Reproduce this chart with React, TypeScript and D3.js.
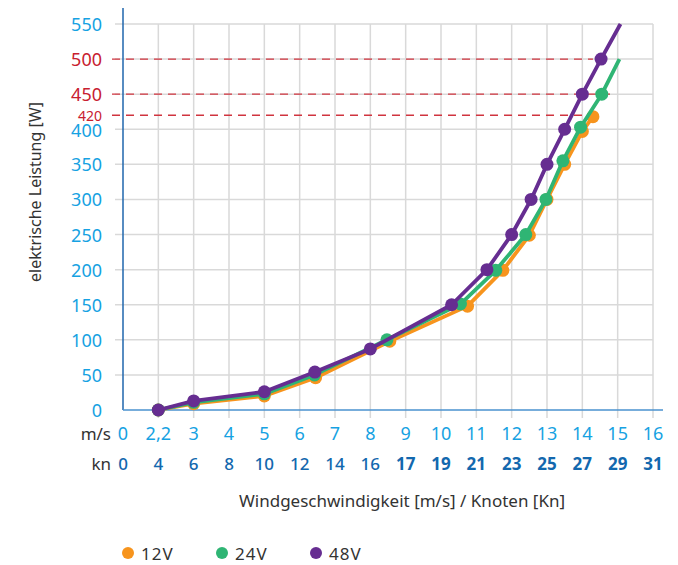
import * as d3 from "d3";

const WIDTH = 678;
const HEIGHT = 565;
const MARGIN = { top: 24, right: 25, bottom: 155, left: 123 };
const FONT = "'Noto Sans', sans-serif";

// x axis: category-like spacing, 0 and 2,2 take one step each
const msTicks = [0, 2.2, 3, 4, 5, 6, 7, 8, 9, 10, 11, 12, 13, 14, 15, 16];
const knTicks = [0, 4, 6, 8, 10, 12, 14, 16, 17, 19, 21, 23, 25, 27, 29, 31];
const yTicks = [0, 50, 100, 150, 200, 250, 300, 350, 400, 450, 500, 550];
const redTicks = [450, 500];

const refValues = [500, 450, 420];
const refEnds = [14.3, 14.8, 14.5];

const v12x = [2.2, 3, 5, 6.45, 8.55, 10.75, 11.75, 12.5, 13, 13.5, 14, 14.3];
const v12y = [0, 9, 20, 46, 98, 148, 199, 249, 300, 350, 397, 418];
const v24x = [2.2, 3, 5, 6.42, 8.47, 10.55, 11.55, 12.4, 12.97, 13.45, 13.95, 14.55, 15.05];
const v24y = [0, 11, 23, 50, 100, 151, 199, 250, 300, 355, 403, 450, 500];
const v48x = [2.2, 3, 5, 6.43, 8, 10.3, 11.3, 12, 12.55, 13, 13.5, 14, 14.53, 15.08];
const v48y = [0, 13, 26, 54, 87, 150, 200, 250, 300, 350, 400, 450, 500, 550];

const seriesNames = ["12V", "24V", "48V"];
const seriesColors = ["#f7941d", "#2fb574", "#662d91"];

const series = [
  { name: seriesNames[0], color: seriesColors[0], xs: v12x, ys: v12y, lastMarker: true },
  { name: seriesNames[1], color: seriesColors[1], xs: v24x, ys: v24y, lastMarker: false },
  { name: seriesNames[2], color: seriesColors[2], xs: v48x, ys: v48y, lastMarker: false },
];

export default function App() {
  const boundsWidth = WIDTH - MARGIN.left - MARGIN.right;
  const boundsHeight = HEIGHT - MARGIN.top - MARGIN.bottom;
  const step = boundsWidth / 15;

  const xScale = d3
    .scaleLinear()
    .domain([0, 2.2, 3, 16])
    .range([0, step, 2 * step, 15 * step]);
  const yScale = d3.scaleLinear().domain([0, 550]).range([boundsHeight, 0]);

  const line = d3
    .line<[number, number]>()
    .x((d) => xScale(d[0]))
    .y((d) => yScale(d[1]));

  const fmt = (v: number) => String(v).replace(".", ",");

  return (
    <div style={{ position: "absolute", left: 0, top: 0 }}>
      <svg width={WIDTH} height={HEIGHT} style={{ display: "block" }}>
        <g transform={`translate(${MARGIN.left},${MARGIN.top})`}>
          {/* grid */}
          {yTicks.slice(1).map((v) => (
            <line
              key={"h" + v}
              x1={-8}
              x2={xScale(16)}
              y1={yScale(v)}
              y2={yScale(v)}
              stroke="#d9d9d9"
              strokeWidth={1.5}
            />
          ))}
          {msTicks.slice(1).map((v) => (
            <line
              key={"v" + v}
              x1={xScale(v)}
              x2={xScale(v)}
              y1={0}
              y2={boundsHeight + 8}
              stroke="#d9d9d9"
              strokeWidth={1.5}
            />
          ))}

          {/* red reference lines */}
          {refValues.map((v, i) => (
            <line
              key={"r" + v}
              x1={-11}
              x2={xScale(refEnds[i])}
              y1={yScale(v)}
              y2={yScale(v)}
              stroke="#d0343f"
              strokeWidth={1.3}
              strokeDasharray="8,6"
            />
          ))}

          {/* axes */}
          <line x1={0} x2={0} y1={-16} y2={boundsHeight} stroke="#1f66ad" strokeWidth={1.5} />
          <line
            x1={0}
            x2={xScale(16) + 10}
            y1={boundsHeight}
            y2={boundsHeight}
            stroke="#4a92cf"
            strokeWidth={1.5}
          />

          {/* y tick labels */}
          {yTicks.map((v) => (
            <text
              key={"yt" + v}
              x={-21}
              y={yScale(v) + (v === 400 ? 1 : 0)}
              textAnchor="end"
              dominantBaseline="central"
              fontFamily={FONT}
              fontSize={18}
              fill={redTicks.includes(v) ? "#c8202f" : "#16a2e2"}
            >
              {v}
            </text>
          ))}
          <text
            x={-21}
            y={yScale(420)}
            textAnchor="end"
            dominantBaseline="central"
            fontFamily={FONT}
            fontSize={14}
            fill="#c8202f"
          >
            420
          </text>

          {/* x tick labels */}
          {msTicks.map((v) => (
            <text
              key={"ms" + v}
              x={xScale(v)}
              y={boundsHeight + 23}
              textAnchor="middle"
              dominantBaseline="central"
              fontFamily={FONT}
              fontSize={18}
              fill="#16a2e2"
            >
              {fmt(v)}
            </text>
          ))}
          {knTicks.map((k, i) => (
            <text
              key={"kn" + k}
              x={xScale(msTicks[i])}
              y={boundsHeight + 53}
              textAnchor="middle"
              dominantBaseline="central"
              fontFamily={FONT}
              fontSize={17}
              fontWeight={k > 16 ? 700 : 500}
              fill="#1368ae"
            >
              {k}
            </text>
          ))}
          <text
            x={-12}
            y={boundsHeight + 23}
            textAnchor="end"
            dominantBaseline="central"
            fontFamily={FONT}
            fontSize={17}
            fill="#333"
          >
            m/s
          </text>
          <text
            x={-12}
            y={boundsHeight + 53}
            textAnchor="end"
            dominantBaseline="central"
            fontFamily={FONT}
            fontSize={17}
            fill="#333"
          >
            kn
          </text>

          {/* series */}
          {series.map((s) => {
            const pts = s.xs.map((x, i) => [x, s.ys[i]] as [number, number]);
            const markers = s.lastMarker ? pts : pts.slice(0, -1);
            return (
              <g key={s.name}>
                <path
                  d={line(pts) || ""}
                  fill="none"
                  stroke={s.color}
                  strokeWidth={3.8}
                  strokeLinejoin="round"
                />
                {markers.map((p, i) => (
                  <circle key={i} cx={xScale(p[0])} cy={yScale(p[1])} r={6.5} fill={s.color} />
                ))}
              </g>
            );
          })}
        </g>

        {/* axis titles */}
        <text
          x={402}
          y={500}
          textAnchor="middle"
          dominantBaseline="central"
          fontFamily={FONT}
          fontSize={17}
          fill="#333"
        >
          Windgeschwindigkeit [m/s] / Knoten [Kn]
        </text>
        <text
          transform="translate(35,192) rotate(-90)"
          textAnchor="middle"
          dominantBaseline="central"
          fontFamily={FONT}
          fontSize={16}
          fill="#333"
        >
          elektrische Leistung [W]
        </text>

        {/* legend */}
        {series.map((s, i) => (
          <g key={"lg" + s.name} transform={`translate(${128 + i * 94},553)`}>
            <circle cx={0} cy={0} r={6} fill={s.color} />
            <text
              x={13}
              y={0}
              dominantBaseline="central"
              fontFamily={FONT}
              fontSize={17}
              letterSpacing={1}
              fill="#333"
            >
              {s.name}
            </text>
          </g>
        ))}
      </svg>
    </div>
  );
}
